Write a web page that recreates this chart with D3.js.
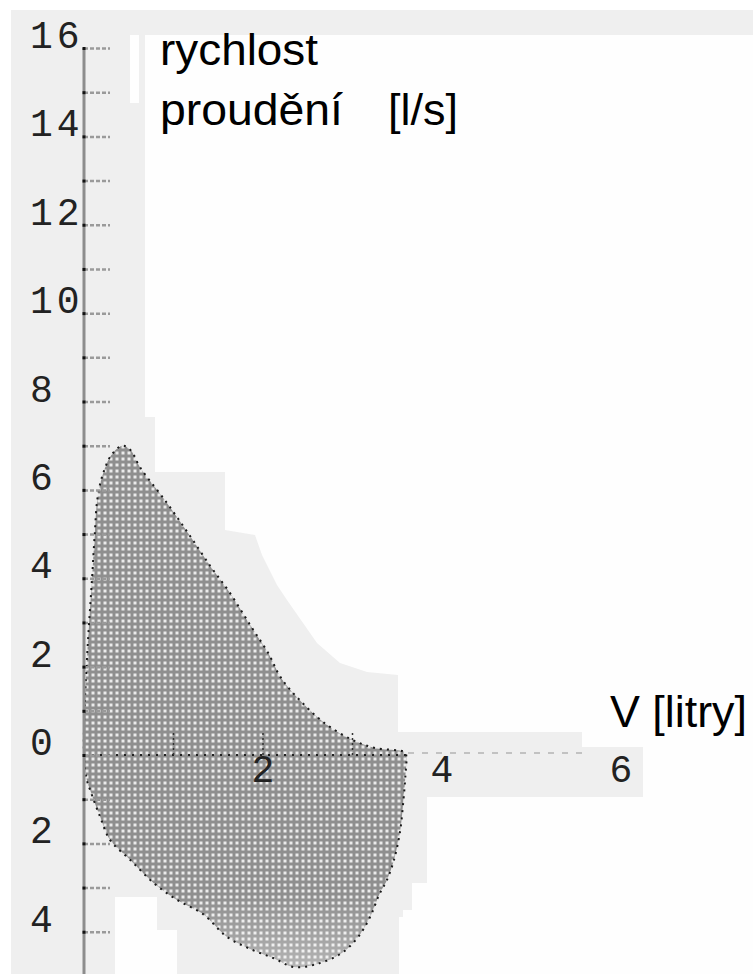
<!DOCTYPE html>
<html>
<head>
<meta charset="utf-8">
<script src="https://cdn.jsdelivr.net/npm/d3@7/dist/d3.min.js"></script>
<style>
  body { margin: 0; background: #fff; }
  svg { display: block; }
</style>
</head>
<body>
<div id="chart"></div>
<script>
// flow-volume loop
// expiratory limb: volume [l] and flow [l/s], from the start of the breath to its end
const expVolume = [0, 0.01, 0.045, 0.09, 0.12, 0.15, 0.21, 0.31, 0.43, 0.52, 0.63, 0.91, 1.17, 1.42, 1.62, 1.87, 2.06, 2.2, 2.43, 2.69, 2.99, 3.25, 3.58, 3.6];
const expFlow = [0, 1.2, 2.6, 4.0, 5.0, 5.8, 6.35, 6.8, 7.0, 6.9, 6.5, 5.75, 5.0, 4.25, 3.7, 2.9, 2.3, 1.75, 1.2, 0.72, 0.35, 0.16, 0.07, 0];
// inspiratory limb, going back from full volume to zero (flow drawn below the axis)
const inspVolume = [3.59, 3.57, 3.53, 3.46, 3.38, 3.3, 3.2, 3.07, 2.88, 2.62, 2.35, 2.12, 1.87, 1.6, 1.33, 1.04, 0.78, 0.52, 0.29, 0.18, 0.07, 0.03];
const inspFlow = [-0.5, -1.0, -1.75, -2.4, -2.85, -3.15, -3.65, -4.1, -4.48, -4.72, -4.8, -4.6, -4.4, -4.12, -3.6, -3.28, -2.9, -2.38, -1.92, -1.4, -0.8, -0.55];

const flowTicks = [-5, -4, -3, -2, -1, 0, 1, 2, 3, 4, 5, 6, 7, 8, 9, 10, 11, 12, 13, 14, 15, 16];
const flowLabels = [16, 14, 12, 10, 8, 6, 4, 2, 0, -2, -4];
const volumeLabels = [2, 4, 6];
const volumeTicks = [1, 2, 3];

const yTitle = ['rychlost', 'proudění'];
const yUnit = '[l/s]';
const xTitle = 'V [litry]';

const width = 753;
const height = 974;

const svg = d3.select('#chart').append('svg')
  .attr('width', width)
  .attr('height', height);

const x = d3.scaleLinear().domain([0, 6]).range([84, 621]);
const y = d3.scaleLinear().domain([0, 16]).range([755, 48]);

// scanned paper: grey frame with white patches
svg.append('rect')
  .attr('x', 11).attr('y', 10)
  .attr('width', width - 11).attr('height', height - 10)
  .attr('fill', '#efefef');

const whitePatch = [
  [145, 35], [753, 35], [753, 974], [399, 974], [399, 917], [403, 917], [403, 910],
  [412, 910], [412, 883], [427, 883], [427, 797], [643, 797], [643, 747], [582, 747],
  [582, 732], [398, 732], [398, 675], [367, 672], [340, 663], [317, 643], [287, 600],
  [277, 585], [262, 555], [255, 535], [225, 530], [225, 472], [155, 472], [155, 417],
  [145, 417]
];
svg.append('path')
  .attr('d', 'M' + whitePatch.join('L') + 'Z')
  .attr('fill', '#fefefe');
svg.append('rect').attr('x', 130).attr('y', 35).attr('width', 9).attr('height', 68).attr('fill', '#fefefe');
svg.append('rect').attr('x', 115).attr('y', 897).attr('width', 42).attr('height', 77).attr('fill', '#fefefe');
svg.append('rect').attr('x', 157).attr('y', 930).attr('width', 20).attr('height', 44).attr('fill', '#fefefe');

// halftone fill like the printed original
const defs = svg.append('defs');
const pat = defs.append('pattern')
  .attr('id', 'dots')
  .attr('patternUnits', 'userSpaceOnUse')
  .attr('width', 6).attr('height', 6);
pat.append('rect').attr('width', 6).attr('height', 6).attr('fill', '#8f8f8f');
pat.append('rect').attr('x', 1.5).attr('y', 1.5).attr('width', 3).attr('height', 3).attr('fill', '#ebebeb');

// the print gets paler near the bottom of the inspiratory lobe
const fade = defs.append('linearGradient')
  .attr('id', 'fade')
  .attr('x1', 0).attr('x2', 0).attr('y1', 0).attr('y2', 1)
  .attr('gradientUnits', 'userSpaceOnUse')
  .attr('y1', y(-3.2)).attr('y2', y(-4.9));
fade.append('stop').attr('offset', 0).attr('stop-color', '#fff').attr('stop-opacity', 0);
fade.append('stop').attr('offset', 1).attr('stop-color', '#fff').attr('stop-opacity', 0.35);

const loop = expVolume.map((v, i) => [v, expFlow[i]])
  .concat(inspVolume.map((v, i) => [v, inspFlow[i]]));

const line = d3.line()
  .x((d) => x(d[0]))
  .y((d) => y(d[1]))
  .curve(d3.curveCatmullRomClosed.alpha(0.5));

svg.append('path')
  .datum(loop)
  .attr('d', line)
  .attr('fill', 'url(#dots)');

svg.append('path')
  .datum(loop)
  .attr('d', line)
  .attr('fill', 'url(#fade)');

svg.append('path')
  .datum(loop)
  .attr('d', line)
  .attr('fill', 'none')
  .attr('stroke', '#1a1a1a')
  .attr('stroke-width', 2)
  .attr('stroke-dasharray', '2,5');

// x axis: dotted line through the loop, fainter beyond it
svg.append('line')
  .attr('x1', x(0)).attr('x2', x(3.62))
  .attr('y1', y(0)).attr('y2', y(0))
  .attr('stroke', '#222')
  .attr('stroke-width', 2)
  .attr('stroke-dasharray', '2,6');
svg.append('line')
  .attr('x1', x(3.62)).attr('x2', x(5.65))
  .attr('y1', y(0) - 2).attr('y2', y(0) - 2)
  .attr('stroke', '#c2c2c2')
  .attr('stroke-width', 2)
  .attr('stroke-dasharray', '6,8');

svg.append('g')
  .selectAll('line')
  .data(volumeTicks)
  .join('line')
  .attr('x1', (d) => x(d)).attr('x2', (d) => x(d))
  .attr('y1', y(0)).attr('y2', y(0) - 22)
  .attr('stroke', '#333')
  .attr('stroke-width', 1.5)
  .attr('stroke-dasharray', '2,3');

const mono = '"Liberation Mono", "DejaVu Sans Mono", monospace';

svg.append('g')
  .selectAll('text')
  .data(volumeLabels)
  .join('text')
  .attr('x', (d) => x(d))
  .attr('y', y(0) + 27)
  .attr('text-anchor', 'middle')
  .attr('font-family', mono)
  .attr('font-size', 38)
  .attr('fill', '#222')
  .text((d) => d);

// y axis
svg.append('line')
  .attr('x1', x(0)).attr('x2', x(0))
  .attr('y1', y(16)).attr('y2', height)
  .attr('stroke', '#8d8d8d')
  .attr('stroke-width', 3);

const yAxis = d3.axisRight(y)
  .tickValues(flowTicks)
  .tickSize(26)
  .tickFormat('');
const yg = svg.append('g')
  .attr('transform', `translate(${x(0)},0)`)
  .call(yAxis);
yg.select('.domain').remove();
yg.selectAll('.tick line')
  .attr('stroke', '#9a9a9a')
  .attr('stroke-width', 2.5)
  .attr('stroke-dasharray', '4,2');
yg.selectAll('.tick')
  .append('rect')
  .attr('x', -1.5).attr('y', -1.5)
  .attr('width', 3).attr('height', 3)
  .attr('fill', '#111');

svg.append('g')
  .selectAll('text')
  .data(flowLabels)
  .join('text')
  .attr('x', 30)
  .attr('y', (d) => y(d))
  .attr('font-family', mono)
  .attr('font-size', 38)
  .attr('letter-spacing', 4)
  .attr('fill', '#222')
  .text((d) => Math.abs(d));

// titles
const sans = '"Liberation Sans", Arial, sans-serif';
svg.append('text')
  .attr('x', 160).attr('y', 65)
  .attr('font-family', sans).attr('font-size', 44)
  .attr('textLength', 158).attr('lengthAdjust', 'spacingAndGlyphs')
  .attr('fill', '#000')
  .text(yTitle[0]);
svg.append('text')
  .attr('x', 160).attr('y', 125)
  .attr('font-family', sans).attr('font-size', 44)
  .attr('textLength', 183).attr('lengthAdjust', 'spacingAndGlyphs')
  .attr('fill', '#000')
  .text(yTitle[1]);
svg.append('text')
  .attr('x', 388).attr('y', 125)
  .attr('font-family', sans).attr('font-size', 44)
  .attr('textLength', 70).attr('lengthAdjust', 'spacingAndGlyphs')
  .attr('fill', '#000')
  .text(yUnit);
svg.append('text')
  .attr('x', 610).attr('y', 727)
  .attr('font-family', sans).attr('font-size', 44)
  .attr('textLength', 137).attr('lengthAdjust', 'spacingAndGlyphs')
  .attr('fill', '#000')
  .text(xTitle);
</script>
</body>
</html>
